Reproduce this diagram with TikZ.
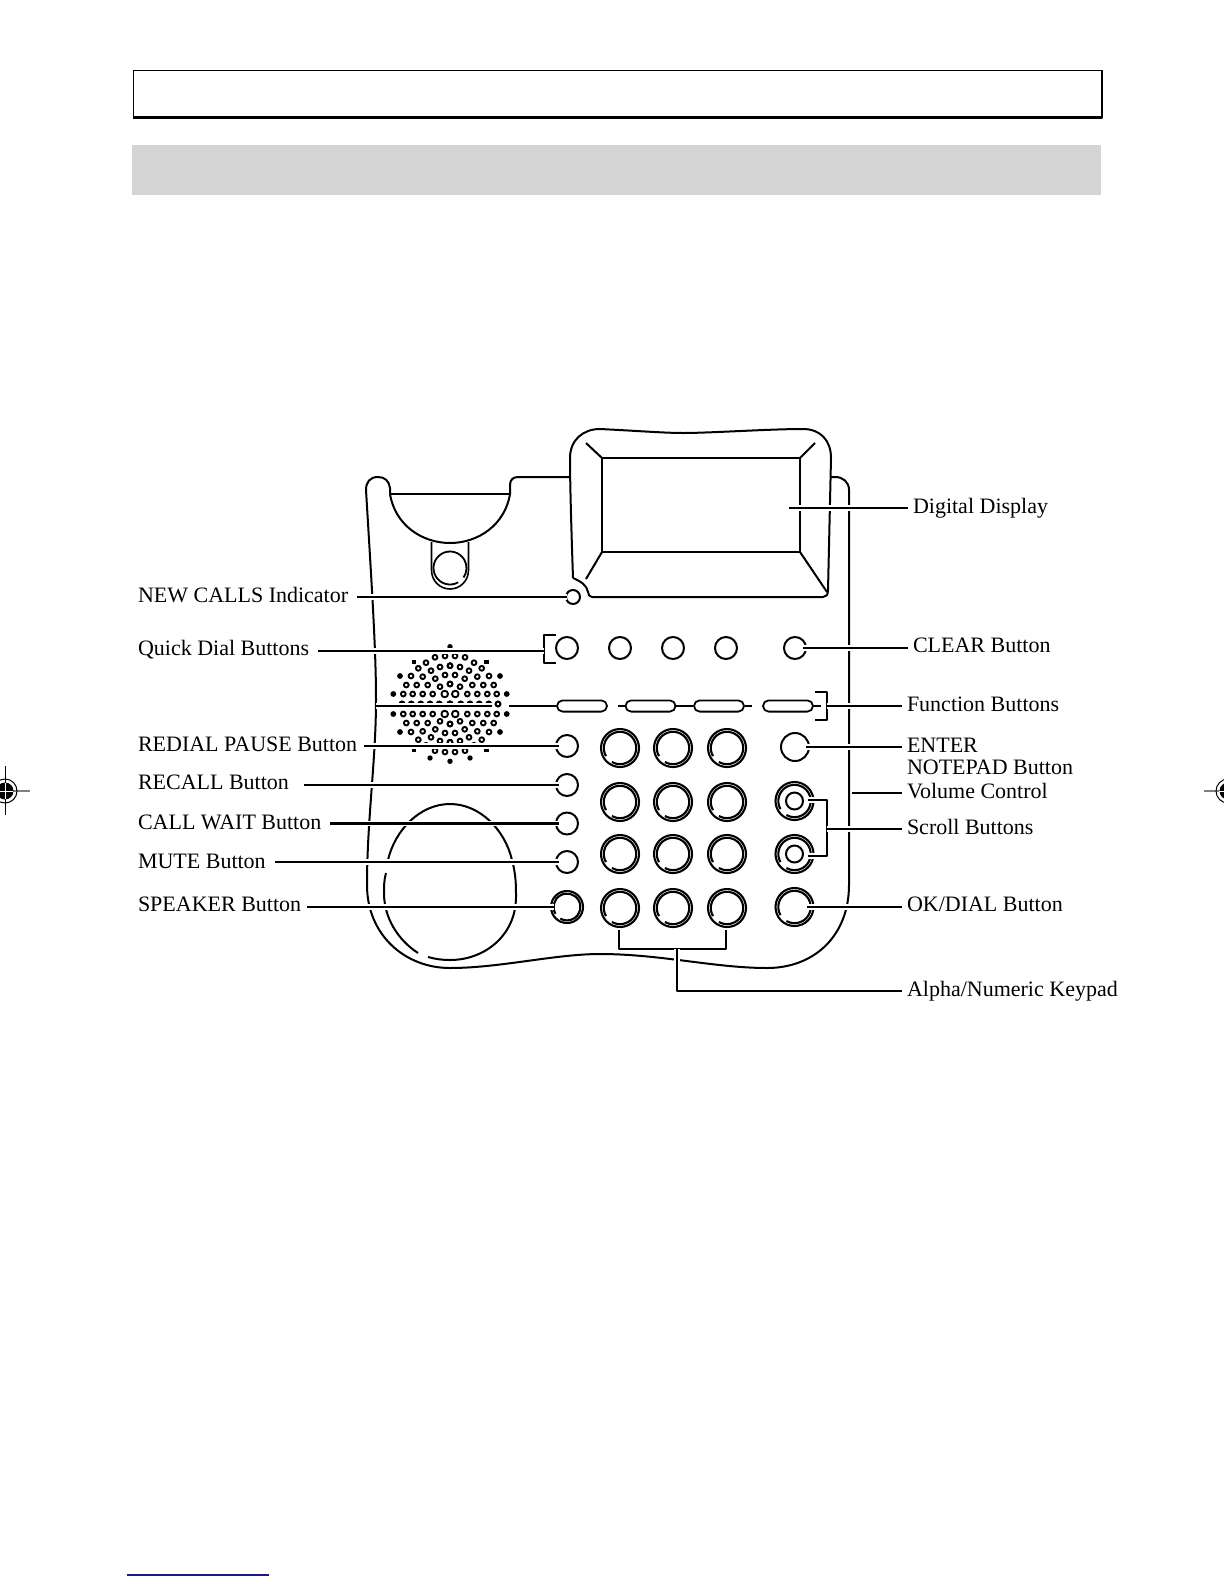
\documentclass[tikz,border=0pt]{standalone}
\usepackage{fontspec}
\setmainfont{Liberation Serif}
\usepackage{tikz}
\usetikzlibrary{arrows.meta, positioning, calc, shapes.misc}
\definecolor{bandgray}{HTML}{D4D4D4}
\definecolor{rulenavy}{HTML}{1A1A80}

\begin{document}
\begin{tikzpicture}[x=0.5pt, y=-0.5pt, line width=1pt, line join=round,
      lbl/.style={font=\fontsize{11}{11}\selectfont, inner xsep=2pt, inner ysep=0pt, anchor=base west},
      leader/.style={line width=1.1pt, preaction={draw=white, line width=2.6pt}},
      btnsmall/.style={circle, draw, inner sep=0pt, minimum size=11pt},
      btnkey/.style={circle, draw, inner sep=0pt, minimum size=19pt, line width=1.05pt},
      pill/.style={rounded rectangle, draw, inner sep=0pt, minimum width=25pt, minimum height=5.6pt, line width=0.9pt},
      dot/.style={draw, line width=0.95pt},
      cropline/.style={line width=0.5pt}]
    \useasboundingbox (0,0) rectangle (1224,1584);
    % header boxes
    \draw[line width=0.75pt] (133.5,70.5) rectangle (1102,117.5);
    \draw[line width=1.2pt] (133,117.5) -- (1102,117.5) -- (1102,70);
    \fill[bandgray] (132,144.7) rectangle (1101,195);
    \draw[rulenavy, line width=0.6pt] (127,1575) -- (269,1575);
    % crop marks
    \draw[cropline] (5,766) -- (5,815);
    \draw[cropline, gray, line width=0.7pt] (5,791) -- (30,791);
    \draw[cropline] (5,791) circle[radius=12];
    \fill (5,791) circle[radius=8.5];
    \draw[white, line width=0.4pt] (-3,791) -- (13,791) (5,783) -- (5,799);
    \draw[cropline, gray, line width=0.7pt] (1204,791) -- (1224,791);
    \draw[cropline] (1228,791) circle[radius=12];
    \fill (1228,791) circle[radius=8.5];
    \draw[white, line width=0.4pt] (1219,791) -- (1224,791);
    % body
    \draw (570,477) -- (518,477) .. controls (513,477) and (510,480) .. (510,485) -- (510,494)
      .. controls (505,525) and (478,543) .. (450,543) .. controls (422,543) and (395,525) .. (390,494)
      -- (390,488) .. controls (389,481) and (385,477) .. (378,477) .. controls (370,477) and (366,482) .. (366,490)
      .. controls (372,590) and (376,650) .. (376,700) .. controls (376,760) and (367,820) .. (367,885)
      .. controls (367,935) and (405,968) .. (450,968) .. controls (500,968) and (555,954) .. (600,954)
      .. controls (660,954) and (715,968) .. (767,968) .. controls (815,968) and (849,935) .. (849,885)
      -- (849,490) .. controls (849,482) and (843,477) .. (835,477) -- (830,477);
    \draw (390,494) -- (510,494);
    % cradle
    \draw[line width=0.8pt] (431.5,542) -- (431.5,570) .. controls (431.5,581) and (440,589) .. (450,589) .. controls (460,589) and (468.5,581) .. (468.5,570) -- (468.5,542);
    \draw[line width=0.9pt] (450,568) ++(60:16.5) arc[start angle=60, end angle=395, radius=16.5];
    % display bezel
    \draw (573,578) .. controls (571,520) and (570,480) .. (570,458) .. controls (570,440) and (583,429) .. (600,429)
      .. controls (640,431) and (665,433) .. (683,433) .. controls (710,433) and (770,429) .. (803,429)
      .. controls (820,429) and (831,440) .. (831,458) -- (828,590) .. controls (828,595) and (826,597) .. (823,597)
      -- (592,597) .. controls (589,597) and (589,595) .. (588,592) .. controls (587,585) and (580,581) .. (573,578);
    \draw (602,458) rectangle (800,552);
    \draw (602,458) -- (586,443) (800,458) -- (815,443) (602,552) -- (586,579) (800,552) -- (827,592);
    % handset
    \draw (388,860) .. controls (395,830) and (420,804) .. (450,804) .. controls (480,804) and (505,830) .. (512,860)
      .. controls (516,875) and (516,885) .. (516,897) .. controls (516,935) and (485,960) .. (450,960) .. controls (442,960) and (435,959) .. (428,957);
    \draw (386,873) .. controls (384,880) and (384,886) .. (384,893) .. controls (384,918) and (398,940) .. (418,953);
    % speaker grille, mirrored about its middle row
    \foreach \s in {1,-1} {
      \foreach \dx/\dy in {48/0,38.7/0,29.3/0,20/0,10.7/0,0/0,46.7/10,37.3/10,27.3/10,17.3/10,43.7/19,33.3/19,22.3/19,10/17.3,0/20,
          39/28,27.3/27.3,14.7/25.3,5/29,31.7/35.7,19/33.3,10/37,0/38.3,24/41.3,15/46.7,5/48} {
        \draw[dot] (450+\dx,704+\s*\dy) circle[radius=2.4];
        \draw[dot] (450-\dx,704+\s*\dy) circle[radius=2.4];
      }
      \draw[dot] (455.3,704+\s*10) circle[radius=3.3] (444.7,704+\s*10) circle[radius=3.3];
      \foreach \sx in {1,-1} {
        \fill (450+\sx*56.7,704+\s*10) circle[radius=2.9];
        \fill (450+\sx*50,704+\s*28) circle[radius=2.9];
      }
      \fill (450,704+\s*57.3) circle[radius=2.7];
      \fill (411.5,704+\s*44) rectangle (416,704+\s*44+3.5);
      \fill (484,704+\s*44) rectangle (488.5,704+\s*44+3.5);
    }
    \fill (430,758) circle[radius=2.7] (470,758) circle[radius=2.7];
    % buttons
    \node[btnsmall, minimum size=7pt] (newcalls) at (573,597) {};
    \foreach \nm/\x in {qda/567,qdb/620,qdc/673,qdd/726,clear/795}
      \node[btnsmall] (\nm) at (\x,648) {};
    \foreach \nm/\y in {redial/746,recall/785,callwait/823.5,mute/862}
      \node[btnsmall] (\nm) at (567,\y) {};
    \node[btnsmall, minimum size=14pt] (enter) at (795,747) {};
    \node[pill] (fna) at (582,706) {};
    \node[pill] (fnb) at (650.5,706) {};
    \node[pill] (fnc) at (719,706) {};
    \node[pill] (fnd) at (788,706) {};
    \foreach \nm/\x/\y in {ka/620/748,kb/673/748,kc/727/748,kd/620/802,ke/673/802,kf/727/802,
        kg/620/854,kh/673/854,ki/727/854,kj/620/908,kk/673/908,kl/727/908,
        scrollup/794.5/801,scrolldn/794.5/854,okdial/794.5/907} {
      \node[btnkey] (\nm) at (\x,\y) {};
      \draw[line width=1.05pt] (\x,\y) ++(150:16.2) arc[start angle=150, end angle=480, radius=16.2];
    }
    \draw (794.5,801) circle[radius=8.5] (794.5,854) circle[radius=8.5];
    \node[btnsmall, minimum size=16pt, line width=1.05pt] (speaker) at (567,907) {};
    \draw[line width=1.05pt] (567,907) ++(150:13.4) arc[start angle=150, end angle=480, radius=13.4];
    % labels
    \node[lbl] (lblnew) at (133,602) {NEW CALLS Indicator};
    \node[lbl] (lblquick) at (133,655) {Quick Dial Buttons};
    \node[lbl] (lblredial) at (133,751) {REDIAL PAUSE Button};
    \node[lbl] (lblrecall) at (133,789) {RECALL Button};
    \node[lbl] (lblwait) at (133,829) {CALL WAIT Button};
    \node[lbl] (lblmute) at (133,868) {MUTE Button};
    \node[lbl] (lblspk) at (133,911) {SPEAKER Button};
    \node[lbl] (lbldisp) at (908,513) {Digital Display};
    \node[lbl] (lblclear) at (908,652) {CLEAR Button};
    \node[lbl] (lblfunc) at (902,711) {Function Buttons};
    \node[lbl, align=left, anchor=north west] (lblenter) at (902,737.5) {ENTER\\NOTEPAD Button};
    \node[lbl] (lblvol) at (902,798) {Volume Control};
    \node[lbl] (lblscroll) at (902,834) {Scroll Buttons};
    \node[lbl] (lblok) at (902,911) {OK/DIAL Button};
    \node[lbl] (lblalpha) at (902,996) {Alpha/Numeric Keypad};
    % leaders
    \draw[leader, shorten <=1.8pt, shorten >=-1pt] (lblnew.east |- newcalls) -- (newcalls.west);
    \draw[leader] (556,635) -- (544,635) -- (544,663) -- (556,663);
    \draw[leader, shorten <=2pt] (lblquick.east |- 544,651) -- (544,651);
    \draw[leader, shorten <=1pt, shorten >=-2pt] (lblredial.east |- redial) -- (redial.west);
    \draw[leader, shorten <=5pt, shorten >=-2pt] (lblrecall.east |- recall) -- (recall.west);
    \draw[leader, shorten <=2pt, shorten >=-2pt] (lblwait.east |- callwait) -- (callwait.west);
    \draw[leader, shorten <=2pt, shorten >=-2pt] (lblmute.east |- mute) -- (mute.west);
    \draw[leader, shorten <=0.5pt, shorten >=-2pt] (lblspk.east |- speaker) -- (speaker.west);
    \draw[leader] (789,508) -- (lbldisp.west |- 789,508);
    \draw[leader, shorten <=-2pt] (clear.east) -- (lblclear.west |- clear);
    \draw[leader, shorten <=-2pt] (enter.east) -- (lblenter.west |- enter);
    \draw[leader, shorten <=-4pt] (okdial.east) -- (lblok.west |- okdial);
    \draw[leader] (376,706) -- (492,706);
    \draw[leader] (509,706) -- (fna.west);
    \draw[leader] (618,706) -- (fnb.west);
    \draw[leader] (fnb.east) -- (fnc.west);
    \draw[leader] (fnc.east) -- (752,706);
    \draw[leader] (fnd.east) -- (821,706);
    \draw[leader] (815,692) -- (827,692) -- (827,720) -- (815,720);
    \draw[leader] (827,706) -- (lblfunc.west |- 827,706);
    \draw[leader] (852,793) -- (lblvol.west |- 852,793);
    \draw[leader] (808,800) -- (827,800) -- (827,856) -- (808,856);
    \draw[leader] (827,829) -- (lblscroll.west |- 827,829);
    \draw[leader] (619,930) -- (619,949) -- (726,949) -- (726,930);
    \draw[leader] (677,949) -- (677,991) -- (lblalpha.west |- 677,991);
  \end{tikzpicture}
\end{document}
